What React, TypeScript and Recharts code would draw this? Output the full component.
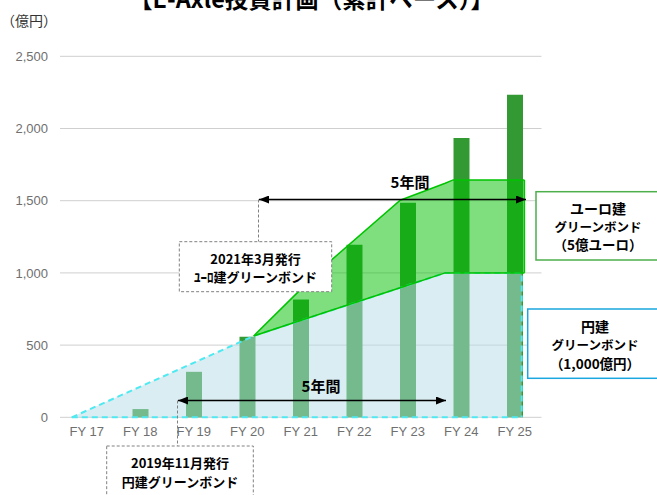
import { ComposedChart, Bar, Area, XAxis, YAxis, CartesianGrid, ReferenceLine } from "recharts"

// fiscal years on the x axis (FY 17 .. FY 25)
const fiscalYears = [17, 18, 19, 20, 21, 22, 23, 24, 25]
// cumulative E-Axle investment (億円)
const investment = [0, 57, 315, 557, 815, 1195, 1485, 1934, 2233]

// yen green bond band (light blue area), x in fiscal-year units
const yenX = [16.72, 20.12, 23.7, 25.13, 25.13]
const yenValue = [0, 563, 1000, 1000, 0]

// euro green bond band (green area), lower/upper edges
const euroX = [20.12, 21.42, 22.86, 23.7, 23.85, 25.18]
const euroLow = [563, 722, 897, 1000, 1000, 1000]
const euroHigh = [563, 1040, 1503, 1621, 1644, 1644]

const yTicks = [0, 500, 1000, 1500, 2000, 2500]

const barData = fiscalYears.map((x, i) => ({ x, investment: investment[i] }))
const yenData = yenX.map((x, i) => ({ x, yen: yenValue[i] }))
const euroData = euroX.map((x, i) => ({ x, euro: [euroLow[i], euroHigh[i]] }))

const X_DOMAIN: [number, number] = [16.5, 25.5]

const JP = "'Noto Sans CJK JP', 'Noto Sans', sans-serif"
const TICK_FONT = "'Liberation Sans Narrow', 'Liberation Sans', Arial, sans-serif"

function Annotations() {
  return (
    <svg
      width={657}
      height={495}
      style={{ position: "absolute", left: 0, top: 0, pointerEvents: "none" }}
    >
      <defs>
        <marker id="arrowEnd" markerWidth="10" markerHeight="8" refX="10" refY="4" orient="auto" markerUnits="userSpaceOnUse">
          <path d="M0,0 L10,4 L0,8 z" fill="#000" />
        </marker>
        <marker id="arrowStart" markerWidth="10" markerHeight="8" refX="0" refY="4" orient="auto" markerUnits="userSpaceOnUse">
          <path d="M10,0 L0,4 L10,8 z" fill="#000" />
        </marker>
      </defs>

      {/* title, clipped at the top like the slide */}
      <text x={311.5} y={8} textAnchor="middle" fontFamily={JP} fontWeight="bold" fontSize={23.5} fill="#000">
        【E-Axle投資計画（累計ベース）】
      </text>
      <text x={29} y={19.5} textAnchor="middle" dominantBaseline="central" fontFamily={JP} fontSize={14} fill="#333">
        （億円）
      </text>

      {/* upper 5-year arrow (euro bond) */}
      <line x1={258.5} y1={199.5} x2={258.5} y2={241.7} stroke="#808080" strokeDasharray="3 2" />
      <line x1={259} y1={199.5} x2={526} y2={199.5} stroke="#000" strokeWidth={1.5} markerStart="url(#arrowStart)" markerEnd="url(#arrowEnd)" />
      <text x={410} y={181} textAnchor="middle" dominantBaseline="central" fontFamily={JP} fontWeight="bold" fontSize={15} fill="#000">
        5年間
      </text>
      <rect x={179.3} y={241.7} width={152.4} height={50} fill="#fff" stroke="#808080" strokeDasharray="3 2" />
      <text x={255.5} y={258.5} textAnchor="middle" dominantBaseline="central" fontFamily={JP} fontWeight="bold" fontSize={13} fill="#000">
        2021年3月発行
      </text>
      <text x={255.5} y={276} textAnchor="middle" dominantBaseline="central" fontFamily={JP} fontWeight="bold" fontSize={13} fill="#000">
        ﾕｰﾛ建グリーンボンド
      </text>

      {/* lower 5-year arrow (yen bond) */}
      <line x1={177.5} y1={400.5} x2={177.5} y2={446} stroke="#808080" strokeDasharray="3 2" />
      <line x1={178} y1={400.5} x2={446} y2={400.5} stroke="#000" strokeWidth={1.5} markerStart="url(#arrowStart)" markerEnd="url(#arrowEnd)" />
      <text x={321} y={385} textAnchor="middle" dominantBaseline="central" fontFamily={JP} fontWeight="bold" fontSize={15} fill="#000">
        5年間
      </text>
      <rect x={106.7} y={446} width={146.6} height={60} fill="#fff" stroke="#808080" strokeDasharray="3 2" />
      <text x={180} y={462.5} textAnchor="middle" dominantBaseline="central" fontFamily={JP} fontWeight="bold" fontSize={13} fill="#000">
        2019年11月発行
      </text>
      <text x={180} y={481} textAnchor="middle" dominantBaseline="central" fontFamily={JP} fontWeight="bold" fontSize={13} fill="#000">
        円建グリーンボンド
      </text>

      {/* right-hand legend boxes */}
      <rect x={536} y={191.7} width={130} height={68.3} fill="#fff" stroke="#4caf4c" strokeWidth={1.5} />
      <text x={598} y={208} textAnchor="middle" dominantBaseline="central" fontFamily={JP} fontWeight="bold" fontSize={14} fill="#000">
        ユーロ建
      </text>
      <text x={598} y={226} textAnchor="middle" dominantBaseline="central" fontFamily={JP} fontWeight="bold" fontSize={12.5} fill="#000">
        グリーンボンド
      </text>
      <text x={598} y={244} textAnchor="middle" dominantBaseline="central" fontFamily={JP} fontWeight="bold" fontSize={13.5} fill="#000">
        （5億ユーロ）
      </text>

      <rect x={527.7} y={309} width={140} height={69.3} fill="#fff" stroke="#1aa7e0" strokeWidth={1.5} />
      <text x={595} y={326} textAnchor="middle" dominantBaseline="central" fontFamily={JP} fontWeight="bold" fontSize={14} fill="#000">
        円建
      </text>
      <text x={595} y={344.3} textAnchor="middle" dominantBaseline="central" fontFamily={JP} fontWeight="bold" fontSize={12.5} fill="#000">
        グリーンボンド
      </text>
      <text x={595} y={363} textAnchor="middle" dominantBaseline="central" fontFamily={JP} fontWeight="bold" fontSize={13.5} fill="#000">
        （1,000億円）
      </text>
    </svg>
  )
}

export default function App() {
  return (
    <div style={{ position: "absolute", left: 0, top: 0, width: 657, height: 495, background: "#fff", overflow: "hidden" }}>
      <ComposedChart
        width={657}
        height={495}
        data={barData}
        margin={{ top: 56.3, right: 115.5, left: 0, bottom: 47.7 }}
      >
        <CartesianGrid vertical={false} stroke="#cfcfcf" xAxisId="bars" />
        {/* same scale, hidden, for the hand-drawn bond bands */}
        <XAxis xAxisId="bands" type="number" dataKey="x" domain={X_DOMAIN} allowDataOverflow hide height={0} />
        {/* visible fiscal-year axis used by the bars */}
        <XAxis
          xAxisId="bars"
          type="number"
          dataKey="x"
          domain={X_DOMAIN}
          ticks={fiscalYears}
          tickFormatter={(v: number) => `FY ${v}`}
          allowDataOverflow
          axisLine={false}
          tickLine={false}
          tickSize={0}
          tickMargin={9}
          height={30}
          tick={{ fill: "#6f6f6f", fontSize: 13, fontFamily: TICK_FONT }}
        />
        <YAxis
          domain={[0, 2500]}
          ticks={yTicks}
          tickFormatter={(v: number) => v.toLocaleString("en-US")}
          axisLine={false}
          tickLine={false}
          tickSize={0}
          tickMargin={12}
          width={60}
          tick={{ fill: "#6f6f6f", fontSize: 13, fontFamily: TICK_FONT }}
        />

        {/* bars first so the translucent bands tint them */}
        <Bar xAxisId="bars" dataKey="investment" fill="#339933" barSize={16} isAnimationActive={false} />

        <Area
          xAxisId="bands"
          data={yenData}
          dataKey="yen"
          type="linear"
          fill="#b5dbe5"
          fillOpacity={0.5}
          stroke="#4fe9f2"
          strokeWidth={2}
          strokeDasharray="6 4"
          isAnimationActive={false}
          zIndex={500}
        />
        <Area
          xAxisId="bands"
          data={euroData}
          dataKey="euro"
          type="linear"
          fill="#00c000"
          fillOpacity={0.5}
          stroke="#00c400"
          strokeWidth={1.5}
          isAnimationActive={false}
          zIndex={500}
        />

        {/* closing edges of the two bands */}
        <ReferenceLine
          xAxisId="bands"
          segment={[{ x: yenX[0], y: 0 }, { x: yenX[3], y: 0 }]}
          stroke="#4fe9f2"
          strokeWidth={2}
          strokeDasharray="6 4"
          ifOverflow="visible"
          zIndex={600}
        />
        <ReferenceLine
          xAxisId="bands"
          segment={[{ x: euroX[5], y: euroLow[5] }, { x: euroX[5], y: euroHigh[5] }]}
          stroke="#00c400"
          strokeWidth={1.5}
          ifOverflow="visible"
          zIndex={600}
        />
      </ComposedChart>
      <Annotations />
    </div>
  )
}
